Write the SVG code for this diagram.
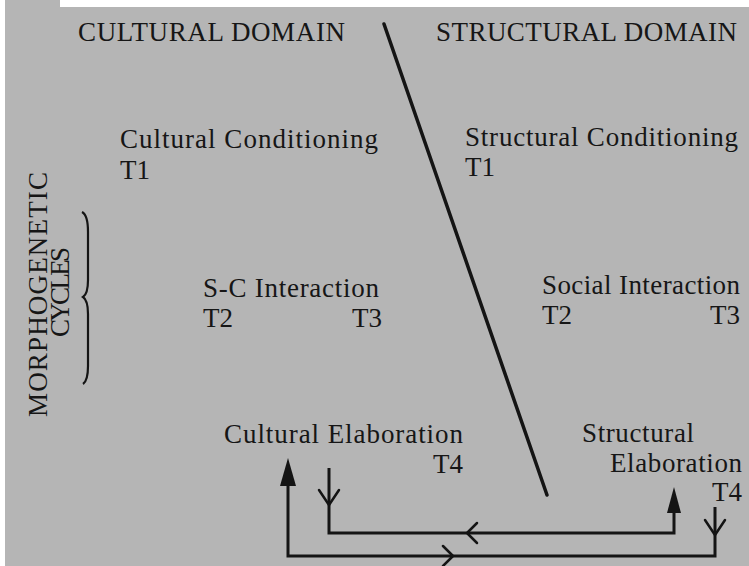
<svg xmlns="http://www.w3.org/2000/svg" width="749" height="566" viewBox="0 0 749 566">
<style>
.t{font-family:"Liberation Serif","Times New Roman",serif;font-size:27px;fill:#161616}
.ln{fill:none;stroke:#141414;stroke-width:3;stroke-linejoin:miter}
.chev{fill:none;stroke:#141414;stroke-width:2.5;stroke-linecap:round;stroke-linejoin:round}
.head{fill:#141414}
</style>
<rect x="0" y="0" width="749" height="566" fill="#b5b5b5"/>
<rect x="0" y="0" width="5" height="566" fill="#ffffff"/>
<rect x="60" y="0" width="689" height="7" fill="#ffffff"/>
<g id="headers">
<text class="t" x="78" y="41" textLength="267" lengthAdjust="spacing">CULTURAL DOMAIN</text>
<text class="t" x="436" y="41" textLength="301" lengthAdjust="spacing">STRUCTURAL DOMAIN</text>
</g>
<g id="divider">
<line x1="384" y1="24" x2="547" y2="495" stroke="#141414" stroke-width="3.5" stroke-linecap="round"/>
</g>
<g id="morphogenetic-cycles">
<text class="t" transform="translate(47,417) rotate(-90)" textLength="245" lengthAdjust="spacing">MORPHOGENETIC</text>
<text class="t" transform="translate(69,337) rotate(-90)" textLength="90" lengthAdjust="spacing">CYCLES</text>
<path d="M82,212 C86,214 88,222 88,232 L88,280 C88,290 86,295 83,297 C86,299 88,304 88,314 L88,366 C88,376 86,382 83,384" fill="none" stroke="#141414" stroke-width="2.2"/>
</g>
<g id="cultural-conditioning">
<text class="t" x="120" y="148" textLength="258" lengthAdjust="spacing">Cultural Conditioning</text>
<text class="t" x="120" y="179">T1</text>
</g>
<g id="structural-conditioning">
<text class="t" x="465" y="146" textLength="273" lengthAdjust="spacing">Structural Conditioning</text>
<text class="t" x="465" y="176">T1</text>
</g>
<g id="sc-interaction">
<text class="t" x="203" y="297" textLength="176" lengthAdjust="spacing">S-C Interaction</text>
<text class="t" x="203" y="327">T2</text>
<text class="t" x="382" y="327" text-anchor="end">T3</text>
</g>
<g id="social-interaction">
<text class="t" x="542" y="294" textLength="198" lengthAdjust="spacing">Social Interaction</text>
<text class="t" x="542" y="324">T2</text>
<text class="t" x="740" y="324" text-anchor="end">T3</text>
</g>
<g id="cultural-elaboration">
<text class="t" x="224" y="443" textLength="239" lengthAdjust="spacing">Cultural Elaboration</text>
<text class="t" x="463" y="473" text-anchor="end">T4</text>
</g>
<g id="structural-elaboration">
<text class="t" x="582" y="442" textLength="112" lengthAdjust="spacing">Structural</text>
<text class="t" x="610" y="472" textLength="132" lengthAdjust="spacing">Elaboration</text>
<text class="t" x="742" y="501" text-anchor="end">T4</text>
</g>
<g id="connectors">
<path class="ln" d="M715,507 V556 H288 V480"/>
<polygon class="head" points="288,458 280,486 296,486"/>
<path class="ln" d="M329,468 V533 H674 V508"/>
<polygon class="head" points="674,487 667,513 681,513"/>
<polyline class="chev" points="319,490 329,505 339,490"/>
<polyline class="chev" points="705,520 715,535 725,520"/>
<polyline class="chev" points="477,523 467,533 477,543"/>
<polyline class="chev" points="443,546 453,556 443,566"/>
</g>
</svg>
